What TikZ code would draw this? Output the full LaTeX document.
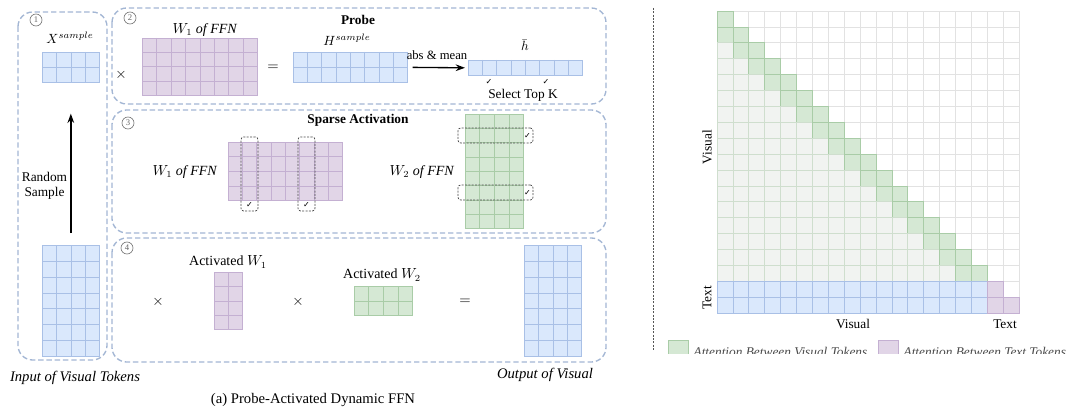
\documentclass[tikz,border=0pt]{standalone}
\usepackage{fontspec}
\setmainfont{Liberation Serif}
\newfontfamily\djv{DejaVu Sans}
\usetikzlibrary{calc,arrows.meta}
\definecolor{bF}{HTML}{DAE8FC}
\definecolor{bD}{HTML}{A9C0E6}
\definecolor{pF}{HTML}{E1D5E7}
\definecolor{pD}{HTML}{C4B0D2}
\definecolor{gF}{HTML}{D5E8D4}
\definecolor{gD}{HTML}{A9CCA7}
\definecolor{grF}{HTML}{F1F3F1}
\definecolor{grD}{HTML}{CFDECE}
\definecolor{wD}{HTML}{E2E2E2}
\definecolor{panC}{HTML}{A3B6D4}
\definecolor{sepC}{HTML}{555555}
\newcommand\gmat[9]{%
 \node[draw=#3, fill=#2, line width=0.5pt, inner sep=0pt, minimum width=#8*0.75pt, minimum height=#9*0.75pt, anchor=north west] (#1) at (#4,#5) {};
 \pgfmathtruncatemacro\gmc{#6-1}%
 \pgfmathtruncatemacro\gmr{#7-1}%
 \ifnum\gmc>0 \foreach \k in {1,...,\gmc}{\draw[#3, line width=0.5pt] ($(#1.north west)!\k/#6!(#1.north east)$) -- ($(#1.south west)!\k/#6!(#1.south east)$);}\fi
 \ifnum\gmr>0 \foreach \k in {1,...,\gmr}{\draw[#3, line width=0.5pt] ($(#1.north west)!\k/#7!(#1.south west)$) -- ($(#1.north east)!\k/#7!(#1.south east)$);}\fi
}
\tikzset{
 panel/.style={draw=panC, dash pattern=on 4pt off 2.2pt, line width=1pt, rounded corners=11pt},
 numc/.style={circle, draw=black!55, line width=0.5pt, inner sep=0pt, minimum size=9pt, font=\fontsize{6.5}{7}\selectfont, text=black!60},
 lbl/.style={inner sep=1pt, font=\fontsize{10}{12}\selectfont},
 ilbl/.style={inner sep=1pt, font=\fontsize{11}{13}\selectfont\itshape},
 ttl/.style={inner sep=1pt, font=\fontsize{10}{12}\selectfont\bfseries},
 op/.style={inner sep=0pt, font=\fontsize{11}{12}\selectfont},
 chk/.style={inner sep=0pt, font=\djv\fontsize{6}{6}\selectfont},
 selbox/.style={draw=black!70, dash pattern=on 1.5pt off 1pt, line width=0.55pt, rounded corners=2pt, inner sep=0pt},
 arr/.style={-{Stealth[length=7pt,width=5pt]}, line width=1pt},
 sepl/.style={draw=sepC, dash pattern=on 1.5pt off 1pt, line width=0.6pt},
}
\begin{document}
\begin{tikzpicture}[x=0.75pt,y=-0.75pt]
\useasboundingbox (0,0) rectangle (1080,410);
\fill[white] (0,0) rectangle (1080,410);
% panels
\draw[panel] (18,12) rectangle (107,360);
\draw[panel] (112,8) rectangle (606,104);
\draw[panel] (112,110) rectangle (606,233);
\draw[panel] (112,238) rectangle (606,362);
\node[numc] (n1) at (36,20) {1};
\node[numc] (n2) at (130,18) {2};
\node[numc] (n3) at (128,123) {3};
\node[numc] (n4) at (127,248) {4};
% panel 1
\node[lbl] (lxs) at (70,38) {$X^{sample}$};
\gmat{xs}{bF}{bD}{42}{52}{4}{2}{57}{30}
\gmat{xin}{bF}{bD}{42}{245}{4}{7}{57}{111}
\draw[arr, shorten <=12*0.75pt, shorten >=31*0.75pt] (xin.north) -- (xs.south);
\node[lbl, align=center, font=\fontsize{10}{11.5}\selectfont] (rs) at (44.5,186) {Random\\Sample};
\node[ilbl] (lin) at (75,378) {Input of Visual Tokens};
% panel 2
\node[op] (t1) at (121,75) {$\times$};
\node[lbl, font=\fontsize{10.5}{12}\selectfont] (lw1a) at (205,30) {$W_1$ \textit{of FFN}};
\gmat{w1a}{pF}{pD}{142}{38}{8}{4}{115}{57}
\node[op] (e1) at (273,68) {$=$};
\node[ttl] (probe) at (358,20) {Probe};
\node[lbl] (lhs) at (347,40) {$H^{sample}$};
\gmat{hs}{bF}{bD}{293}{52}{8}{2}{114}{30}
\gmat{hb}{bF}{bD}{468}{60}{8}{1}{114}{15}
\draw[arr, shorten <=5*0.75pt, shorten >=3*0.75pt] (hs.east) -- (hb.west);
\node[lbl, font=\fontsize{9.5}{11}\selectfont] (am) at (437,55) {abs \& mean};
\node[lbl] (lhb) at (525,45) {$\bar{h}$};
\node[chk] (k1) at (489,82) {✓};
\node[chk] (k2) at (546,82) {✓};
\node[lbl] (stk) at (523,95) {Select Top K};
% panel 3
\node[ttl] (sparse) at (358,120) {Sparse Activation};
\node[lbl, font=\fontsize{10.5}{12}\selectfont] (lw1b) at (185,172) {$W_1$ \textit{of FFN}};
\gmat{w1b}{pF}{pD}{228}{142}{8}{4}{114}{58}
\node[selbox, minimum width=17*0.75pt, minimum height=74*0.75pt] (s1) at (249.5,174) {};
\node[selbox, minimum width=17*0.75pt, minimum height=74*0.75pt] (s2) at (306.5,174) {};
\node[chk] (k3) at (249.5,205) {✓};
\node[chk] (k4) at (306.5,205) {✓};
\node[lbl, font=\fontsize{10.5}{12}\selectfont] (lw2b) at (422,172) {$W_2$ \textit{of FFN}};
\gmat{w2b}{gF}{gD}{465}{114}{4}{8}{58}{114}
\node[selbox, minimum width=75*0.75pt, minimum height=15*0.75pt] (s3) at (495.5,135.5) {};
\node[selbox, minimum width=75*0.75pt, minimum height=15*0.75pt] (s4) at (495.5,192.5) {};
\node[chk] (k5) at (527.5,135.5) {✓};
\node[chk] (k6) at (527.5,192.5) {✓};
% panel 4
\node[op] (t2) at (158,302) {$\times$};
\node[lbl, font=\fontsize{10.5}{12}\selectfont] (law1) at (228,262) {Activated $W_1$};
\gmat{w1c}{pF}{pD}{214}{272}{2}{4}{28}{57}
\node[op] (t3) at (298,302) {$\times$};
\node[lbl, font=\fontsize{10.5}{12}\selectfont] (law2) at (382,275) {Activated $W_2$};
\gmat{w2c}{gF}{gD}{354}{286}{4}{2}{58}{29}
\node[op] (e2) at (465,302) {$=$};
\gmat{out}{bF}{bD}{524}{245}{4}{7}{57}{111}
\node[ilbl] (lout) at (545,375) {Output of Visual};
\node[lbl, font=\fontsize{11}{13}\selectfont] (cap) at (313,400) {(a) Probe-Activated Dynamic FFN};
% separator
\coordinate (sa) at (653,8);
\coordinate (sb) at (653,350);
\draw[sepl] (sa) -- (sb);
% attention grid
\def\cs{15.9}
\foreach \i in {0,...,18}{\foreach \j in {0,...,18}{
  \pgfmathtruncatemacro\code{(\i<17) ? ((\j==\i || \j==\i-1) ? 1 : ((\j<\i-1) ? 2 : 0)) : ((\j<17) ? 3 : (((\i==18) || (\j==17)) ? 4 : 0))}
  \ifnum\code=0
   \draw[wD, line width=0.5pt, fill=white] (717+\j*\cs,11+\i*\cs) rectangle ++(\cs,\cs);
  \fi
}}
\foreach \i in {0,...,18}{\foreach \j in {0,...,18}{
  \pgfmathtruncatemacro\code{(\i<17) ? ((\j==\i || \j==\i-1) ? 1 : ((\j<\i-1) ? 2 : 0)) : ((\j<17) ? 3 : (((\i==18) || (\j==17)) ? 4 : 0))}
  \ifcase\code
  \or \draw[gD, line width=0.5pt, fill=gF] (717+\j*\cs,11+\i*\cs) rectangle ++(\cs,\cs);
  \or \draw[grD, line width=0.5pt, fill=grF] (717+\j*\cs,11+\i*\cs) rectangle ++(\cs,\cs);
  \or \draw[bD, line width=0.5pt, fill=bF] (717+\j*\cs,11+\i*\cs) rectangle ++(\cs,\cs);
  \or \draw[pD, line width=0.5pt, fill=pF] (717+\j*\cs,11+\i*\cs) rectangle ++(\cs,\cs);
  \fi
}}
\node[lbl, rotate=90] (gv) at (707,147) {Visual};
\node[lbl, rotate=90] (gt) at (707,298) {Text};
\node[lbl] (hv) at (853,324) {Visual};
\node[lbl] (ht) at (1005,324) {Text};
% legend (cut off)
\begin{scope}
\clip (660,330) rectangle (1080,353);
\node[draw=gD, fill=gF, inner sep=0pt, minimum size=20*0.75pt, anchor=north west] (lg1) at (668,340) {};
\node[lbl, anchor=west, text=black!70] (lt1) at (692,352) {\itshape Attention Between Visual Tokens};
\node[draw=pD, fill=pF, inner sep=0pt, minimum size=20*0.75pt, anchor=north west] (lg2) at (878,340) {};
\node[lbl, anchor=west, text=black!70] (lt2) at (902,352) {\itshape Attention Between Text Tokens};
\end{scope}
\end{tikzpicture}
\end{document}
